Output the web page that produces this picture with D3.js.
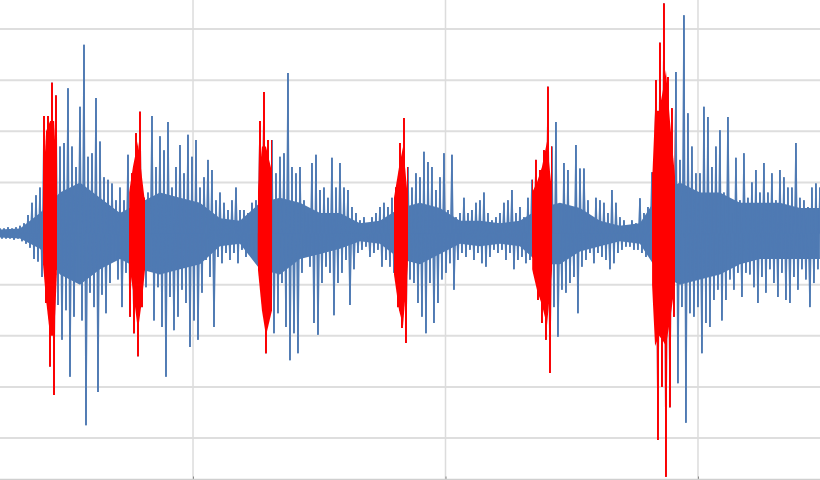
<!DOCTYPE html>
<html>
<head>
<meta charset="utf-8">
<script src="https://cdn.jsdelivr.net/npm/d3@7"></script>
<style>
  html, body { margin: 0; padding: 0; background: #fff; }
  svg { display: block; }
</style>
</head>
<body>
<svg id="chart" width="820" height="480"></svg>
<script>
// time window shown (seconds) and sample spacing
const tStart = 0.2356;
const tEnd = 3.4832;
const peakStep = 0.01584;
const bodyStep = 0.0792;

// peak amplitude per short window: positive swing and negative swing
const upper = [
  1, 1, 1.2, 1, 1.2, 1.5, 2, 3.6, 6, 7.5,
  9, 23, 23, 29.5, 27, 17, 17.7, 28.4, 17, 13,
  24.8, 36.9, 15, 15.7, 26.5, 18, 11, 10.5, 9.8, 6.5,
  9, 6.5, 15.4, 11.8, 19.6, 23.8, 7, 8, 23, 13,
  19, 16.3, 21.8, 9, 13, 17.3, 11.8, 19.3, 15, 18.3,
  9, 11, 14.4, 12.4, 6.5, 8, 6, 4.6, 6.5, 9,
  4.6, 4.6, 4, 6, 6.5, 22, 27.7, 18.3, 18.3, 11.8,
  15, 15.7, 31.4, 13, 11.8, 13, 6.5, 4, 13.8, 15.4,
  8.5, 9, 7, 14.8, 9, 13.8, 9, 8.5, 5.2, 4,
  2.6, 3.2, 2, 3.2, 4, 5.2, 6, 5.2, 7, 9,
  17.7, 22.6, 13, 9, 11.8, 11, 16, 14, 13, 8.5,
  11, 15.7, 4.6, 15.4, 3.2, 4, 7, 4, 4.6, 6,
  6.5, 8, 4, 2.6, 3.2, 4, 6, 6.5, 8.5, 4,
  5.2, 3.2, 7, 10.5, 14.4, 12.4, 16.3, 28.7, 17, 21.8,
  5.2, 13.8, 12.4, 5.2, 17.3, 12.7, 12.7, 6.5, 3.2, 7,
  6.5, 6, 4, 8.5, 6, 3.2, 2.6, 1.3, 2.6, 2,
  6.9, 4, 5.2, 12, 30, 37.3, 45, 30.6, 24.5, 31.6,
  14.4, 42.7, 23.5, 17, 11.8, 11.8, 24.8, 22.8, 13, 17,
  20.2, 8, 22.8, 4, 14.8, 6.5, 15.7, 7, 10, 12.4,
  8, 13.8, 8, 11.8, 6.5, 12.4, 11, 9, 9, 17.7,
  7, 6.5, 5.2, 9, 9.8, 9
];
const lower = [
  -1, -1, -1, -1.2, -1, -1.5, -2, -2.8, -5, -5.5,
  -8.5, -13.6, -26, -31.6, -14, -20.8, -15, -28, -16.3, -8.5,
  -17, -37.5, -11.6, -14.4, -31, -12, -15.6, -9.7, -5.2, -9,
  -14.4, -7.7, -16.3, -19.5, -24, -14.4, -10.5, -6.5, -17, -10.5,
  -18.3, -28, -12.4, -18.9, -16.3, -11, -13.6, -22.2, -17, -20.8,
  -11.6, -5.2, -8.5, -18.3, -4.6, -5.8, -3.8, -5.2, -3.8, -5.8,
  -3.2, -4.6, -2.6, -3.8, -5.2, -11, -23.4, -15.6, -19.5, -15.6,
  -9.7, -18.3, -24.8, -19.5, -23.4, -7.7, -4.6, -6.5, -17.5, -19.8,
  -9.7, -6.5, -7.7, -16, -9.7, -7.7, -5.2, -14, -7, -3.8,
  -3.2, -2.6, -4.6, -3.8, -3.2, -6.5, -5.2, -6.5, -7.7, -14.4,
  -18.5, -21.4, -9, -9.7, -13.6, -16.3, -19.5, -9.7, -17.5, -13.6,
  -9, -7.7, -5.8, -11, -5.2, -3.8, -4.6, -3.2, -5.2, -3.8,
  -5.8, -6.5, -4.6, -3.2, -3.8, -3.2, -5.2, -3.8, -7, -5.2,
  -4.6, -5.8, -5.2, -7, -13, -17.5, -20.8, -27.3, -14.4, -20.2,
  -11, -11.6, -9.7, -8.5, -15.6, -6.5, -5.2, -3.8, -5.8, -3.8,
  -4.6, -5.2, -7, -5.8, -3.8, -3.2, -2.6, -2.6, -3.2, -3.2,
  -3.8, -4.6, -3.2, -9, -40.4, -30, -47.6, -34, -16.3, -29.3,
  -14.4, -37, -15.6, -16.3, -14.4, -23.4, -17.5, -18.3, -13, -11,
  -17, -13, -9, -11, -7.7, -12.4, -7.7, -8, -10.5, -13.6,
  -8.5, -11.6, -7, -9.7, -12.4, -7.7, -13, -13.6, -8.5, -11,
  -7, -9, -14.4, -9.7, -7, -7.7
];

// dense body of the signal, coarser windows
const bodyUpper = [
  0.8, 1, 4, 8, 10, 7, 4, 6, 8, 7,
  6, 3, 2.5, 6, 7, 6, 4, 4, 2, 2.5,
  5, 6, 5, 2.5, 2.5, 2, 2.5, 5, 6, 5,
  2.5, 1.5, 2, 8, 10, 8, 8, 6, 6, 6,
  5, 5
];
const bodyLower = [
  -0.8, -1, -3, -8, -10, -7, -5, -7, -8, -7,
  -6, -2.5, -2, -7, -8, -5, -4, -3, -1.5, -2,
  -5, -6, -4, -2, -2.5, -2, -2.5, -6, -6, -3.5,
  -2.5, -1.5, -2, -8, -10, -9, -8, -6, -5, -5,
  -5, -5
];

// highlighted stretches (seconds)
const highlights = [
  [0.406, 0.461], [0.747, 0.810], [1.257, 1.313],
  [1.796, 1.851], [2.343, 2.422], [2.818, 2.909]
];

// dense body inside each highlighted stretch: [time, top, bottom]
const highlightBody = [
  [[0.406, 8, -6], [0.418, 20, -13], [0.434, 22, -20], [0.450, 22, -20], [0.461, 10, -8]],
  [[0.747, 8, -6], [0.762, 13, -11], [0.782, 18, -19], [0.798, 11, -13], [0.810, 6, -7]],
  [[1.257, 8, -7], [1.273, 17, -15], [1.289, 17, -20], [1.313, 12, -15]],
  [[1.796, 7, -8], [1.816, 13, -15], [1.832, 17, -18], [1.851, 7, -6]],
  [[2.343, 8, -7], [2.362, 10, -11], [2.382, 13, -14], [2.402, 18, -18], [2.422, 8, -7]],
  [[2.818, 10, -10], [2.830, 24, -22], [2.846, 24, -20], [2.861, 28, -21],
   [2.873, 32, -22], [2.889, 22, -17], [2.909, 11, -10]]
];

const xTicks = [1, 2, 3];
const yGrid = [-40, -30, -20, -10, 0, 10, 20, 30, 40];

const width = 820;
const height = 480;
const axisY = 479.5;
const blue = '#4f7ab3';
const red = '#ff0000';

const svg = d3.select('#chart');

const x = d3.scaleLinear().domain([tStart, tEnd]).range([0, width]);
const y = d3.scaleLinear().domain([-40, 40]).range([438, 29]);

// grid
svg.append('g')
  .selectAll('line')
  .data(yGrid)
  .join('line')
  .attr('x1', 0)
  .attr('x2', width)
  .attr('y1', d => y(d))
  .attr('y2', d => y(d))
  .attr('stroke', '#dedede')
  .attr('stroke-width', 2);

svg.append('g')
  .selectAll('line')
  .data(xTicks)
  .join('line')
  .attr('x1', d => x(d))
  .attr('x2', d => x(d))
  .attr('y1', 0)
  .attr('y2', axisY)
  .attr('stroke', '#dcdcdc')
  .attr('stroke-width', 1.5);

// bottom axis
const xAxis = d3.axisBottom(x).tickValues(xTicks).tickSize(3).tickFormat('');
const axisG = svg.append('g')
  .attr('transform', `translate(0,${axisY - 3})`)
  .call(xAxis);
axisG.select('.domain').remove();
axisG.selectAll('.tick line').attr('stroke', '#888');
svg.append('line')
  .attr('x1', 0).attr('x2', width)
  .attr('y1', axisY).attr('y2', axisY)
  .attr('stroke', '#cfcfcf')
  .attr('stroke-width', 1.5);

// signal body
const body = bodyUpper.map((u, i) => ({ t: tStart + i * bodyStep, u, l: bodyLower[i] }));
const bodyArea = d3.area()
  .x(d => x(d.t))
  .y0(d => y(d.l))
  .y1(d => y(d.u));

// peaks: positive peak, then negative peak half a window later
const peaks = upper.map((u, i) => ({ t: tStart + i * peakStep, u, l: lower[i] }));
const wave = [];
peaks.forEach(p => {
  wave.push([p.t, p.u]);
  wave.push([p.t + peakStep / 2, p.l]);
});
const waveLine = d3.line()
  .x(d => x(d[0]))
  .y(d => y(d[1]));

function drawSignal(g, color) {
  g.append('path')
    .datum(body)
    .attr('d', bodyArea)
    .attr('fill', color);

  g.append('path')
    .datum(wave)
    .attr('d', waveLine)
    .attr('fill', 'none')
    .attr('stroke', color)
    .attr('stroke-width', 1.3);

  g.append('g')
    .selectAll('line')
    .data(peaks)
    .join('line')
    .attr('x1', d => x(d.t))
    .attr('x2', d => x(d.t))
    .attr('y1', d => y(d.u))
    .attr('y2', y(0))
    .attr('stroke', color)
    .attr('stroke-width', 1.8);

  g.append('g')
    .selectAll('line')
    .data(peaks)
    .join('line')
    .attr('x1', d => x(d.t + peakStep / 2))
    .attr('x2', d => x(d.t + peakStep / 2))
    .attr('y1', y(0))
    .attr('y2', d => y(d.l))
    .attr('stroke', color)
    .attr('stroke-width', 1.8);
}

drawSignal(svg.append('g'), blue);

const clip = svg.append('clipPath').attr('id', 'hl');
clip.selectAll('rect')
  .data(highlights)
  .join('rect')
  .attr('x', d => x(d[0]))
  .attr('width', d => x(d[1]) - x(d[0]))
  .attr('y', 0)
  .attr('height', height);

const redG = svg.append('g').attr('clip-path', 'url(#hl)');
drawSignal(redG, red);

const hlArea = d3.area()
  .x(d => x(d[0]))
  .y0(d => y(d[2]))
  .y1(d => y(d[1]));

redG.append('g')
  .selectAll('path')
  .data(highlightBody)
  .join('path')
  .attr('d', hlArea)
  .attr('fill', red);
</script>
</body>
</html>
